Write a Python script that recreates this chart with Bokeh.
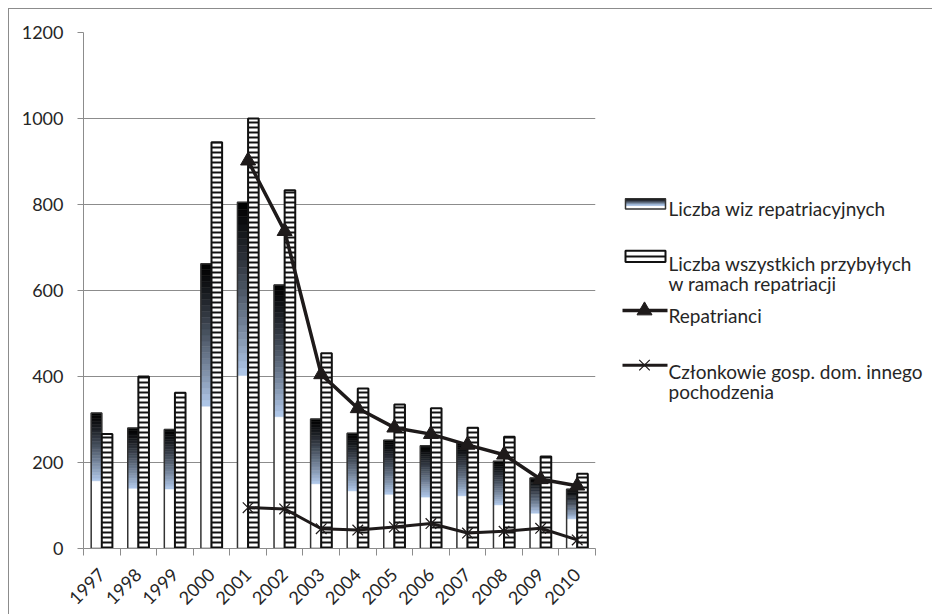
import math
import numpy as np
from bokeh.plotting import figure
from bokeh.models import FixedTicker, Range1d
from bokeh.layouts import row
from bokeh.core.properties import value
from bokeh.embed import file_html
from bokeh.resources import INLINE

# ---------------- data ----------------
years = [1997, 1998, 1999, 2000, 2001, 2002, 2003, 2004, 2005, 2006, 2007, 2008, 2009, 2010]
visas = [315, 280, 277, 662, 805, 613, 301, 268, 252, 239, 245, 203, 164, 138]
arrivals = [266, 400, 362, 945, 1000, 833, 454, 372, 335, 326, 281, 260, 214, 174]
repatrianci = [None, None, None, None, 902, 738, 405, 326, 281, 266, 241, 218, 161, 146]
members = [None, None, None, None, 95, 92, 46, 43, 50, 58, 36, 40, 47, 20]
y_ticks = [0, 200, 400, 600, 800, 1000, 1200]
series_names = ["Liczba wiz repatriacyjnych",
                "Liczba wszystkich przybyłych\nw ramach repatriacji",
                "Repatrianci",
                "Członkowie gosp. dom. innego\npochodzenia"]

# ---------------- styles ----------------
FONT = "Lato"
TXT = "#262626"
GRAY = "#8c8c8c"
BAR_W = 0.29
N_GRAD = 24
DARK = np.array([0, 0, 0])
LIGHT = np.array([178, 202, 236])
FIG_H = 605


def grad_color(t):
    c = DARK + (LIGHT - DARK) * (t ** 1.25)
    return "#%02x%02x%02x" % tuple(int(round(v)) for v in c)


idx = np.arange(len(years))
x_visa = idx - BAR_W / 2
x_arr = idx + BAR_W / 2

p = figure(width=592, height=FIG_H, x_range=Range1d(-0.5, len(years) - 0.5),
           y_range=Range1d(0, 1200), output_backend="svg", toolbar_location=None,
           min_border_left=74, min_border_right=6, min_border_top=23, min_border_bottom=66)
p.outline_line_color = None
p.background_fill_color = "white"
p.border_fill_color = "white"

# gridlines / axes
p.xgrid.grid_line_color = None
p.ygrid.grid_line_color = GRAY
p.ygrid.grid_line_width = 1
p.yaxis.ticker = FixedTicker(ticks=y_ticks)
p.yaxis.axis_line_color = GRAY
p.yaxis.major_tick_line_color = GRAY
p.yaxis.major_tick_out = 6
p.yaxis.major_tick_in = 0
p.yaxis.minor_tick_line_color = None
p.yaxis.major_label_standoff = 14
p.yaxis.major_label_text_font = FONT
p.yaxis.major_label_text_font_size = "18px"
p.yaxis.major_label_text_color = TXT

p.xaxis.ticker = FixedTicker(ticks=list(idx), minor_ticks=[k - 0.5 for k in range(len(years) + 1)])
p.xaxis.major_label_overrides = {int(i): str(y) for i, y in zip(idx, years)}
p.xaxis.axis_line_color = GRAY
p.xaxis.major_tick_line_color = None
p.xaxis.minor_tick_line_color = GRAY
p.xaxis.minor_tick_out = 7
p.xaxis.minor_tick_in = 0
p.xaxis.major_label_orientation = math.pi / 4
p.xaxis.major_label_standoff = 16
p.xaxis.major_label_text_font = FONT
p.xaxis.major_label_text_font_size = "18px"
p.xaxis.major_label_text_color = TXT

# visa bars: white base, gradient in upper half, outline
p.vbar(x=x_visa, top=visas, width=BAR_W, fill_color="white", line_color=None)
gx, gb, gt, gc = [], [], [], []
for xv, v in zip(x_visa, visas):
    for k in range(N_GRAD):
        gx.append(xv)
        gb.append(v * (0.5 + 0.5 * k / N_GRAD))
        gt.append(v * (0.5 + 0.5 * (k + 1) / N_GRAD))
        gc.append(grad_color(1 - (k + 0.5) / N_GRAD))
p.vbar(x=gx, bottom=gb, top=gt, width=BAR_W, fill_color=gc, line_color=gc, line_width=0.5)
p.vbar(x=x_visa, top=visas, width=BAR_W, fill_color=None, line_color="#333333", line_width=1.5)

# arrivals: hatched bars
p.vbar(x=x_arr, top=arrivals, width=BAR_W, fill_color="white", line_color="#111111",
       line_width=2, hatch_pattern="horizontal_line", hatch_color="#111111",
       hatch_weight=2, hatch_scale=5)

# lines
rep = np.array([np.nan if v is None else v for v in repatrianci], dtype=float)
mem = np.array([np.nan if v is None else v for v in members], dtype=float)
p.line(idx, rep, line_color="#1e1a1a", line_width=3.5)
p.scatter(idx, rep, marker="triangle", size=15, fill_color="#1e1a1a", line_color="#1e1a1a")
p.line(idx, mem, line_color="#1e1a1a", line_width=3)
p.scatter(idx, mem, marker="x", size=15, line_color="#1e1a1a", line_width=1.2)

# ---------------- legend panel ----------------
# coordinates in this panel are page pixels (x from 601, y from 8 downward)
leg = figure(width=331, height=FIG_H, x_range=Range1d(601, 932), y_range=Range1d(8 + FIG_H, 8),
             output_backend="svg", toolbar_location=None,
             min_border=0, min_border_left=0, min_border_right=0,
             min_border_top=0, min_border_bottom=0)
leg.axis.visible = False
leg.grid.visible = False
leg.outline_line_color = None

# swatch 1 (gradient)
sw_l, sw_r = 625, 665
s1_t, s1_b = 203, 215
sl_t, sl_b, sl_c = [], [], []
for k in range(N_GRAD):
    f0 = k / N_GRAD
    f1 = (k + 1) / N_GRAD
    sl_t.append(s1_t + (s1_b - s1_t) * 0.65 * f0)
    sl_b.append(s1_t + (s1_b - s1_t) * 0.65 * f1)
    sl_c.append(grad_color((k + 0.5) / N_GRAD))
leg.quad(left=sw_l, right=sw_r, top=s1_t, bottom=s1_b, fill_color="white", line_color=None)
leg.quad(left=[sw_l] * N_GRAD, right=[sw_r] * N_GRAD, top=sl_t, bottom=sl_b,
         fill_color=sl_c, line_color=sl_c, line_width=0.5)
leg.quad(left=sw_l, right=sw_r, top=s1_t, bottom=s1_b, fill_color=None,
         line_color="#333333", line_width=1.5)
# swatch 2 (hatched)
leg.quad(left=sw_l, right=sw_r, top=264, bottom=277, fill_color="white",
         line_color="#111111", line_width=2)
leg.segment(x0=sw_l, x1=sw_r, y0=270.5, y1=270.5, line_color="#111111", line_width=2)
# line items
leg.segment(x0=622, x1=667, y0=334, y1=334, line_color="#1e1a1a", line_width=3.5)
leg.scatter(x=[644], y=[334], marker="triangle", size=15, fill_color="#1e1a1a", line_color="#1e1a1a")
leg.segment(x0=622, x1=667, y0=398, y1=398, line_color="#1e1a1a", line_width=3)
leg.scatter(x=[644], y=[398], marker="x", size=15, line_color="#1e1a1a", line_width=1.2)

label_lines = []
for name in series_names:
    label_lines.extend(name.split("\n"))
label_y = [214.5, 279, 302.5, 340, 405, 428.5]
leg.text(x=[668] * len(label_lines), y=label_y, text=label_lines,
         text_font=value(FONT), text_font_size="19px", text_color=TXT,
         text_baseline="alphabetic", text_align="left")

layout = row(p, leg, styles={"margin-left": "8px", "margin-top": "8px",
                             "border-left": "1px solid #8c8c8c",
                             "border-top": "1px solid #8c8c8c"})
open("out.html", "w").write(file_html(layout, INLINE))
